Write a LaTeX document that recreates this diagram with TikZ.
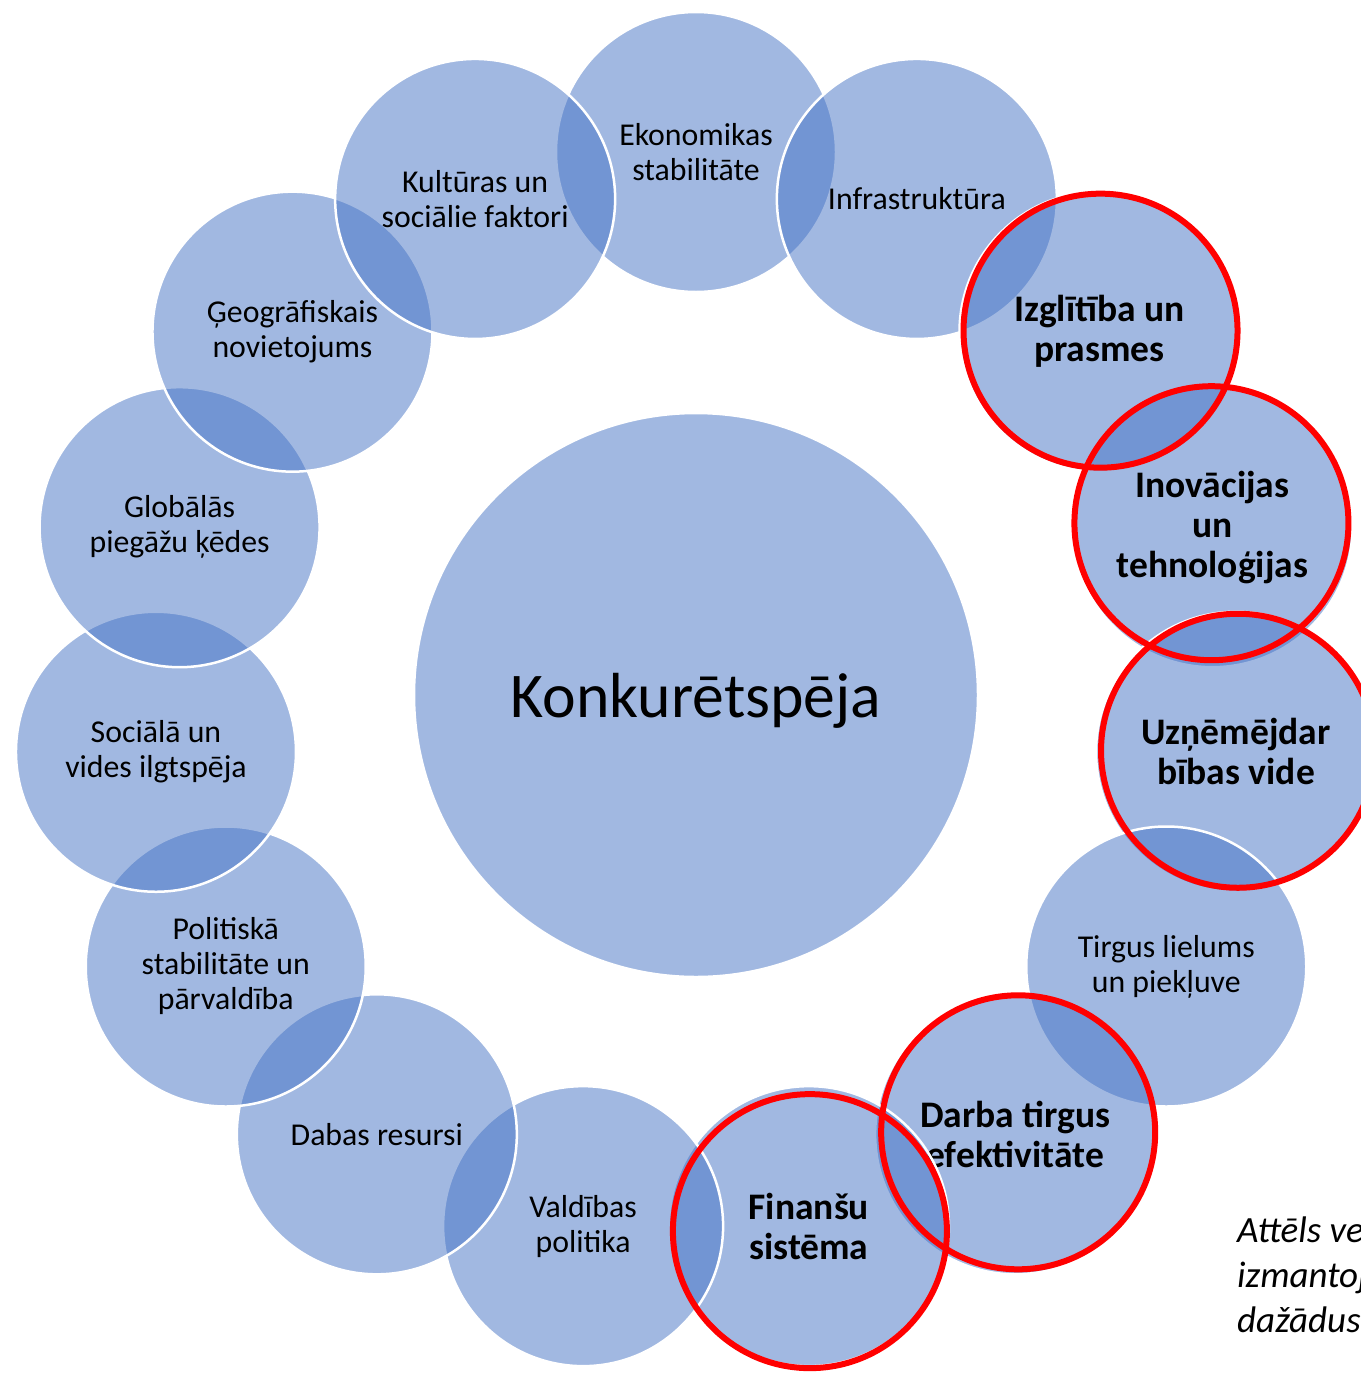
\documentclass[tikz,border=0pt]{standalone}
\usepackage{fontspec}
\setmainfont{Carlito}
\definecolor{ringblue}{RGB}{68,114,196}
\definecolor{markred}{RGB}{255,0,0}
\begin{document}
\begin{tikzpicture}[x=1pt,y=1pt,
  disc/.style={circle, inner sep=0pt, fill=ringblue, fill opacity=0.5,
    text opacity=1, draw=white, draw opacity=1, line width=2.5pt,
    align=center, text=black},
  ring/.style={disc, minimum size=280pt, font=\fontsize{31.8}{35}\selectfont},
  keyring/.style={disc, minimum size=280pt, font=\fontsize{37.5}{40}\selectfont\bfseries},
  redring/.style={draw=markred, line width=6pt}]
\useasboundingbox (0,0) rectangle (1360,-1373);
\coordinate (O) at (696,-695);
% central factor
\node[disc, minimum size=564pt] (core) at (O) {};
\node[anchor=base, font=\fontsize{63.7}{76}\selectfont, inner sep=0pt] (coretext) at (696,-717) {Konkurētspēja};
% surrounding factors, clockwise from the top
\node[ring]    (c1)  at ([shift={(90:543)}]O)   {Ekonomikas\\stabilitāte};
\node[ring]    (c2)  at ([shift={(66:543)}]O)   {Infrastruktūra};
\node[keyring] (c3)  at ([shift={(42:543)}]O)   {Izglītība un\\prasmes};
\node[keyring] (c4)  at ([shift={(18:543)}]O)   {Inovācijas\\un\\tehnoloģijas};
\node[keyring] (c5)  at ([shift={(-6:543)}]O)   {Uzņēmējdar\\bības vide};
\node[ring]    (c6)  at ([shift={(-30:543)}]O)  {Tirgus lielums\\un piekļuve};
\node[keyring] (c7)  at ([shift={(-54:543)}]O)  {Darba tirgus\\efektivitāte};
\node[keyring] (c8)  at ([shift={(-78:543)}]O)  {Finanšu\\sistēma};
\node[ring]    (c9)  at ([shift={(-102:543)}]O) {Valdības\\politika};
\node[ring]    (c10) at ([shift={(-126:543)}]O) {Dabas resursi};
\node[ring]    (c11) at ([shift={(-150:543)}]O) {Politiskā\\stabilitāte un\\pārvaldība};
\node[ring]    (c12) at ([shift={(-174:543)}]O) {Sociālā un\\vides ilgtspēja};
\node[ring]    (c13) at ([shift={(162:543)}]O)  {Globālās\\piegāžu ķēdes};
\node[ring]    (c14) at ([shift={(138:543)}]O)  {Ģeogrāfiskais\\novietojums};
\node[ring]    (c15) at ([shift={(114:543)}]O)  {Kultūras un\\sociālie faktori};
% highlighted factors
\draw[redring] ([shift={(1,1)}]c3.center) circle[radius=137];
\draw[redring] ([shift={(-1,4)}]c4.center) circle[radius=137];
\draw[redring] ([shift={(2,1)}]c5.center) circle[radius=137];
\draw[redring] ([shift={(3,2)}]c7.center) circle[radius=137];
\draw[redring] ([shift={(1,-5)}]c8.center) circle[radius=137];
% caption
\node[anchor=base west, align=left, inner sep=0pt,
  font=\fontsize{37}{45}\selectfont\itshape] (cap) at (1237,-1332)
  {Attēls ve\\izmantoj\\dažādus};
\end{tikzpicture}
\end{document}
